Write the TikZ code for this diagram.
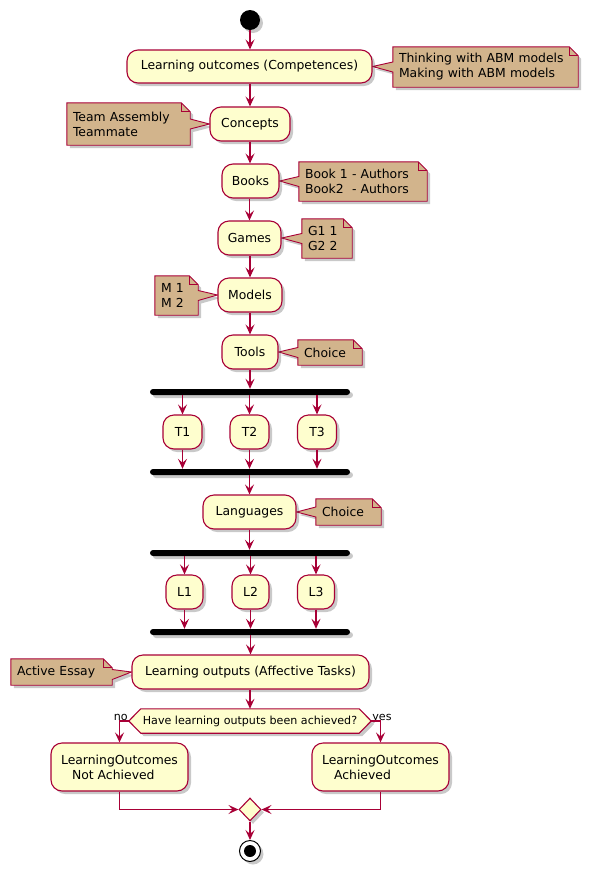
\documentclass[tikz,border=0pt]{standalone}
\usepackage{fontspec}
\setmainfont{DejaVu Sans}
\usetikzlibrary{arrows.meta,calc,shapes.geometric,shadows}
\definecolor{boxfill}{HTML}{FEFECE}
\definecolor{boxline}{HTML}{A80036}
\definecolor{notefill}{HTML}{D2B48C}
\pgfdeclarelayer{bg}
\pgfsetlayers{bg,main}
\tikzset{
  shad/.style={drop shadow={shadow xshift=3pt,shadow yshift=-3pt,opacity=0.3,fill=black!70}},
  act/.style={draw=boxline, fill=boxfill, line width=1.1pt, rounded corners=11pt, inner sep=0pt,
              font=\fontsize{12.4}{15}\selectfont, align=center, shad},
  forkbar/.style={fill=black, rounded corners=3pt, minimum width=200pt, minimum height=6pt, inner sep=0pt, shad},
  notenode/.style={inner xsep=6pt, inner ysep=0pt, align=left, font=\fontsize{12.4}{15}\selectfont},
  notebody/.style={fill=notefill, draw=boxline, line width=0.9pt, shad},
  flow/.style={draw=boxline, line width=1.2pt, -{Stealth[length=10pt,width=9pt,inset=4pt]}},
  lbl/.style={inner sep=0.5pt, font=\fontsize{11.1}{13}\selectfont},
}
% note #1 on the right of target #2, wedge base offset #3
\newcommand{\noteR}[3]{%
  \begin{pgfonlayer}{bg}
  \path[notebody] (#1.north west) -- ($(#1.north east)+(-9,0)$) -- ($(#1.north east)+(0,9)$)
     -- (#1.south east) -- (#1.south west) -- ($(#1.west)+(0,#3+5)$) -- (#2.east)
     -- ($(#1.west)+(0,#3-5)$) -- cycle;
  \draw[boxline, line width=0.9pt] ($(#1.north east)+(-9,0)$) -- ($(#1.north east)+(-9,9)$) -- ($(#1.north east)+(0,9)$);
  \end{pgfonlayer}}
% note #1 on the left of target #2
\newcommand{\noteL}[3]{%
  \begin{pgfonlayer}{bg}
  \path[notebody] (#1.north west) -- ($(#1.north east)+(-9,0)$) -- ($(#1.north east)+(0,9)$)
     -- ($(#1.east)+(0,#3-5)$) -- (#2.west) -- ($(#1.east)+(0,#3+5)$)
     -- (#1.south east) -- (#1.south west) -- cycle;
  \draw[boxline, line width=0.9pt] ($(#1.north east)+(-9,0)$) -- ($(#1.north east)+(-9,9)$) -- ($(#1.north east)+(0,9)$);
  \end{pgfonlayer}}
\begin{document}
\begin{tikzpicture}[x=1pt,y=-1pt]
\useasboundingbox (0,0) rectangle (589,871);

% start
\node[circle, fill=black, minimum size=20pt, inner sep=0pt, shad] (start) at (250,20) {};

% activities
\node[act, minimum width=245pt, minimum height=33pt] (lo) at (249.5,66.5) {Learning outcomes (Competences)};
\node[act, minimum width=80pt, minimum height=34pt] (concepts) at (250,124) {Concepts};
\node[act, minimum width=57pt, minimum height=34pt] (books) at (250.5,181) {Books};
\node[act, minimum width=63pt, minimum height=34pt] (games) at (249.5,238) {Games};
\node[act, minimum width=64pt, minimum height=34pt] (models) at (250,295) {Models};
\node[act, minimum width=56pt, minimum height=34pt] (tools) at (250,352) {Tools};

\node[forkbar] (bar1) at (250,392) {};
\node[act, minimum width=39pt, minimum height=34pt] (t1) at (182.5,432) {T1};
\node[act, minimum width=39pt, minimum height=34pt] (t2) at (249.5,432) {T2};
\node[act, minimum width=39pt, minimum height=34pt] (t3) at (317,432) {T3};
\node[forkbar] (bar2) at (250,472) {};

\node[act, minimum width=93pt, minimum height=34pt] (lang) at (249.5,512) {Languages};

\node[forkbar] (bar3) at (250,553) {};
\node[act, minimum width=37pt, minimum height=34pt] (l1) at (184.5,592) {L1};
\node[act, minimum width=37pt, minimum height=34pt] (l2) at (250.5,592) {L2};
\node[act, minimum width=37pt, minimum height=34pt] (l3) at (316,592) {L3};
\node[forkbar] (bar4) at (250,632) {};

\node[act, minimum width=237pt, minimum height=34pt] (lout) at (250.5,672) {Learning outputs (Affective Tasks)};

% decision
\node[lbl, minimum width=242pt, minimum height=24pt, inner sep=0pt] (dec) at (250,721) {Have learning outputs been achieved?};
\begin{pgfonlayer}{bg}
\path[draw=boxline, fill=boxfill, line width=1.1pt, shad] (dec.west) -- ($(dec.north west)+(12,0)$) -- ($(dec.north east)+(-12,0)$)
   -- (dec.east) -- ($(dec.south east)+(-12,0)$) -- ($(dec.south west)+(12,0)$) -- cycle;
\end{pgfonlayer}
\node[lbl, anchor=base east] at ($(dec.west)+(-0.5,-1)$) {no};
\node[lbl, anchor=base west] at ($(dec.east)+(0.5,-1)$) {yes};

\node[act, minimum width=137pt, minimum height=48pt, align=left] (na) at (119.5,767) {LearningOutcomes\\\hspace*{11pt}Not Achieved};
\node[act, minimum width=137pt, minimum height=48pt, align=left] (ach) at (380.5,767) {LearningOutcomes\\\hspace*{12pt}Achieved};

\node[diamond, draw=boxline, fill=boxfill, line width=1.1pt, minimum width=22pt, minimum height=23pt, inner sep=0pt, shad] (merge) at (250,809.5) {};

% end
\node[circle, draw=black, fill=white, line width=1pt, minimum size=21pt, inner sep=0pt, shad] (end) at (250,851) {};
\fill[black] (end.center) circle[radius=6pt];

% notes
\node[notenode, text width=173pt, minimum height=40pt] (n1) at (485.5,67) {Thinking with ABM models\\Making with ABM models};
\noteR{n1}{lo}{0}
\node[notenode, text width=111pt, minimum height=42pt] (n2) at (128.5,124) {Team Assembly\\Teammate};
\noteL{n2}{concepts}{0}
\node[notenode, text width=116pt, minimum height=39pt] (n3) at (363,181.5) {Book 1 - Authors\\Book2\ \ - Authors};
\noteR{n3}{books}{0}
\node[notenode, text width=38pt, minimum height=39pt] (n4) at (327,238.5) {G1 1\\G2 2};
\noteR{n4}{games}{0}
\node[notenode, text width=31pt, minimum height=39pt] (n5) at (176.5,295.5) {M 1\\M 2};
\noteL{n5}{models}{0}
\node[notenode, text width=52pt, minimum height=25pt] (n6) at (330,352.5) {Choice};
\noteR{n6}{tools}{0}
\node[notenode, text width=53pt, minimum height=26pt] (n7) at (348.5,512) {Choice};
\noteR{n7}{lang}{0}
\node[notenode, text width=89pt, minimum height=26pt] (n8) at (61.5,672) {Active Essay};
\noteL{n8}{lout}{2.5}

% connectors
\draw[flow] (start.south) -- (start.south |- lo.north);
\draw[flow] (lo.south -| concepts.north) -- (concepts.north);
\draw[flow] (concepts.south) -- (concepts.south |- books.north);
\draw[flow] (books.south -| games.north) -- (games.north);
\draw[flow] (games.south -| models.north) -- (models.north);
\draw[flow] (models.south) -- (models.south |- tools.north);
\draw[flow] (tools.south) -- (tools.south |- bar1.north);
\draw[flow] (bar1.south -| t1.north) -- (t1.north);
\draw[flow] (bar1.south -| t2.north) -- (t2.north);
\draw[flow] (bar1.south -| t3.north) -- (t3.north);
\draw[flow] (t1.south) -- (t1.south |- bar2.north);
\draw[flow] (t2.south) -- (t2.south |- bar2.north);
\draw[flow] (t3.south) -- (t3.south |- bar2.north);
\draw[flow] (bar2.south -| lang.north) -- (lang.north);
\draw[flow] (lang.south) -- (lang.south |- bar3.north);
\draw[flow] (bar3.south -| l1.north) -- (l1.north);
\draw[flow] (bar3.south -| l2.north) -- (l2.north);
\draw[flow] (bar3.south -| l3.north) -- (l3.north);
\draw[flow] (l1.south) -- (l1.south |- bar4.north);
\draw[flow] (l2.south) -- (l2.south |- bar4.north);
\draw[flow] (l3.south) -- (l3.south |- bar4.north);
\draw[flow] (bar4.south -| lout.north) -- (lout.north);
\draw[flow] (lout.south -| dec.north) -- (dec.north);
\draw[flow] (dec.west) -| (na.north);
\draw[flow] (dec.east) -| (ach.north);
\draw[flow] (na.south) |- (merge.west);
\draw[flow] (ach.south) |- (merge.east);
\draw[flow] (merge.south) -- (end.north);
\end{tikzpicture}
\end{document}
